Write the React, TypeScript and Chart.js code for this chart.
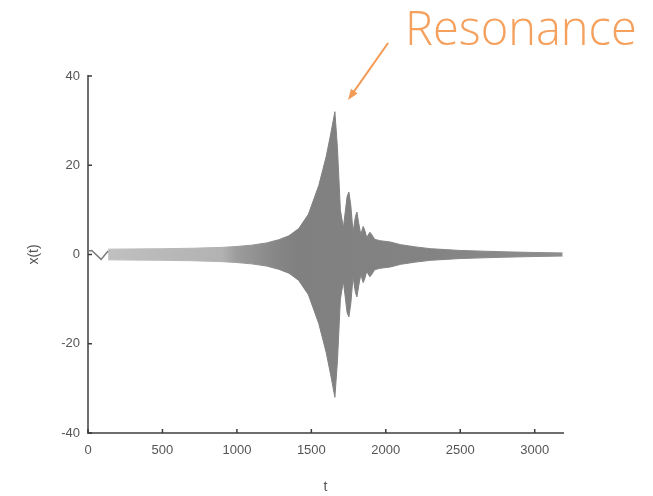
import React, { useEffect, useRef } from 'react';
import { Chart, registerables } from 'chart.js';

Chart.register(...registerables);

// Initial slow swing of x(t) at the very start
const startT = [0, 25, 88, 135];
const startX = [0.8, 0.9, -1.1, 0.8];

// Envelope of the dense oscillation x(t)
const envelopeT = [135, 300, 500, 700, 900, 1000, 1100, 1200, 1280, 1350, 1415, 1480, 1550, 1600, 1630, 1658, 1675, 1695, 1715, 1740, 1752, 1765, 1780, 1796, 1806, 1818, 1832, 1848, 1858, 1872, 1893, 1905, 1925, 1960, 2030, 2100, 2200, 2300, 2400, 2500, 2650, 2800, 3000, 3187];
const upperEnvelope = [1.2, 1.25, 1.3, 1.4, 1.6, 1.8, 2.1, 2.6, 3.3, 4.2, 5.8, 9, 15.5, 22, 27, 32, 24, 10, 6, 13, 14, 11, 5, 8.5, 9.5, 7, 4.5, 6.3, 5.5, 3.8, 5, 4.5, 3.4, 3.1, 2.8, 2.2, 1.7, 1.3, 1.1, 0.9, 0.75, 0.6, 0.45, 0.35];
const lowerEnvelope = [-1.2, -1.25, -1.3, -1.4, -1.6, -1.8, -2.1, -2.6, -3.3, -4.2, -5.8, -9, -15.5, -22, -27, -32, -24, -10, -6, -13, -14, -11, -5, -8.5, -9.5, -7, -4.5, -6.3, -5.5, -3.8, -5, -4.5, -3.4, -3.1, -2.8, -2.2, -1.7, -1.3, -1.1, -0.9, -0.75, -0.6, -0.45, -0.35];

const xTicks = [0, 500, 1000, 1500, 2000, 2500, 3000];
const yTicks = [-40, -20, 0, 20, 40];

const xMin = 0;
const xMax = 3190;
const yMin = -40;
const yMax = 40;

// Shade of the band along t (thin early oscillation looks lighter)
const shadeStops: [number, string][] = [
  [0, '#c2c2c2'],
  [900, '#b2b2b2'],
  [1000, '#9c9c9c'],
  [1250, '#878787'],
  [1400, '#808080'],
  [2300, '#838383'],
  [3190, '#8e8e8e'],
];

// Annotation (data coordinates)
const annotationText = 'Resonance';
const arrowTip = { t: 1746, v: 34.6 };
const arrowTail = { t: 2015, v: 47.4 };
const textAnchor = { t: 2129, v: 46.9 };

const shade = (context: any) => {
  const chart = context.chart;
  const area = chart.chartArea;
  const xs = chart.scales && chart.scales.x;
  if (!area || !xs) return '#808080';
  const g = chart.ctx.createLinearGradient(area.left, 0, area.right, 0);
  shadeStops.forEach(([t, c]) => {
    const p = (xs.getPixelForValue(t) - area.left) / (area.right - area.left);
    g.addColorStop(Math.min(1, Math.max(0, p)), c);
  });
  return g;
};

const inwardTicks = {
  id: 'inwardTicks',
  afterDatasetsDraw(chart: any) {
    const { ctx, chartArea: a, scales } = chart;
    const x = scales.x;
    const y = scales.y;
    ctx.save();
    ctx.strokeStyle = '#3a3a3a';
    ctx.lineWidth = 1.5;
    xTicks.forEach((v) => {
      const px = x.getPixelForValue(v);
      ctx.beginPath();
      ctx.moveTo(px, a.bottom);
      ctx.lineTo(px, a.bottom - 4);
      ctx.stroke();
    });
    yTicks.forEach((v) => {
      const py = y.getPixelForValue(v);
      ctx.beginPath();
      ctx.moveTo(a.left, py);
      ctx.lineTo(a.left + 4, py);
      ctx.stroke();
    });
    ctx.restore();
  },
};

const annotation = {
  id: 'resonanceNote',
  afterDraw(chart: any) {
    const { ctx, scales } = chart;
    const x = scales.x;
    const y = scales.y;
    const tipX = x.getPixelForValue(arrowTip.t);
    const tipY = y.getPixelForValue(arrowTip.v);
    const tailX = x.getPixelForValue(arrowTail.t);
    const tailY = y.getPixelForValue(arrowTail.v);
    const ang = Math.atan2(tipY - tailY, tipX - tailX);
    ctx.save();
    ctx.strokeStyle = '#f39a56';
    ctx.fillStyle = '#f39a56';
    ctx.lineWidth = 2;
    ctx.beginPath();
    ctx.moveTo(tailX, tailY);
    ctx.lineTo(tipX - 6 * Math.cos(ang), tipY - 6 * Math.sin(ang));
    ctx.stroke();
    const len = 11;
    const half = 4;
    const bx = tipX - len * Math.cos(ang);
    const by = tipY - len * Math.sin(ang);
    ctx.beginPath();
    ctx.moveTo(tipX, tipY);
    ctx.lineTo(bx + half * Math.sin(ang), by - half * Math.cos(ang));
    ctx.lineTo(bx - half * Math.sin(ang), by + half * Math.cos(ang));
    ctx.closePath();
    ctx.fill();
    ctx.fillStyle = '#f5a05c';
    ctx.font = '300 47px "Open Sans", Lato, "DejaVu Sans", sans-serif';
    ctx.textBaseline = 'alphabetic';
    ctx.textAlign = 'left';
    ctx.fillText(annotationText, x.getPixelForValue(textAnchor.t), y.getPixelForValue(textAnchor.v));
    ctx.restore();
  },
};

export default function App() {
  const canvasRef = useRef<HTMLCanvasElement | null>(null);

  useEffect(() => {
    if (!canvasRef.current) return;
    const tickFont = { family: '"Liberation Sans", Arial, sans-serif', size: 13 };
    const chart = new Chart(canvasRef.current, {
      type: 'line',
      data: {
        datasets: [
          {
            label: 'start',
            data: startT.map((t, i) => ({ x: t, y: startX[i] })),
            borderColor: '#7a7a7a',
            borderWidth: 1.5,
            pointRadius: 0,
            fill: false,
          },
          {
            label: 'upper',
            data: envelopeT.map((t, i) => ({ x: t, y: upperEnvelope[i] })),
            borderColor: shade,
            backgroundColor: shade,
            borderWidth: 1,
            pointRadius: 0,
            fill: '+1',
          },
          {
            label: 'lower',
            data: envelopeT.map((t, i) => ({ x: t, y: lowerEnvelope[i] })),
            borderColor: shade,
            backgroundColor: shade,
            borderWidth: 1,
            pointRadius: 0,
            fill: false,
          },
        ],
      },
      options: {
        responsive: false,
        animation: false,
        devicePixelRatio: 1,
        layout: { padding: { left: 0, top: 76, right: 90, bottom: 0 } },
        plugins: {
          legend: { display: false },
          tooltip: { enabled: false },
        },
        scales: {
          x: {
            type: 'linear',
            min: xMin,
            max: xMax,
            afterBuildTicks: (scale: any) => {
              scale.ticks = xTicks.map((v) => ({ value: v }));
            },
            afterFit: (scale: any) => {
              scale.height = 63;
            },
            grid: { display: true, drawOnChartArea: false, drawTicks: false },
            border: { display: true, color: '#6e6e6e', width: 2 },
            ticks: {
              color: '#555',
              font: tickFont,
              padding: 10,
              maxRotation: 0,
              callback: (v: any) => String(v),
            },
            title: {
              display: true,
              text: 't',
              color: '#555',
              font: { family: '"Liberation Sans", Arial, sans-serif', size: 14 },
              padding: { top: 0, bottom: 0 },
            },
          },
          y: {
            type: 'linear',
            min: yMin,
            max: yMax,
            afterBuildTicks: (scale: any) => {
              scale.ticks = yTicks.map((v) => ({ value: v }));
            },
            afterFit: (scale: any) => {
              scale.width = 88;
            },
            grid: { display: true, drawOnChartArea: false, drawTicks: false },
            border: { display: true, color: '#6e6e6e', width: 2 },
            ticks: { color: '#555', font: tickFont, padding: 8, callback: (v: any) => String(v) },
            title: {
              display: true,
              text: 'x(t)',
              color: '#555',
              font: { family: '"Liberation Sans", Arial, sans-serif', size: 14 },
              padding: { top: 26, bottom: 0 },
            },
          },
        },
      },
      plugins: [inwardTicks, annotation],
    });
    return () => chart.destroy();
  }, []);

  return (
    <div style={{ position: 'absolute', left: 0, top: 0, width: 653, height: 496, background: '#fff' }}>
      <canvas ref={canvasRef} width={653} height={496} style={{ width: 653, height: 496 }} />
    </div>
  );
}
